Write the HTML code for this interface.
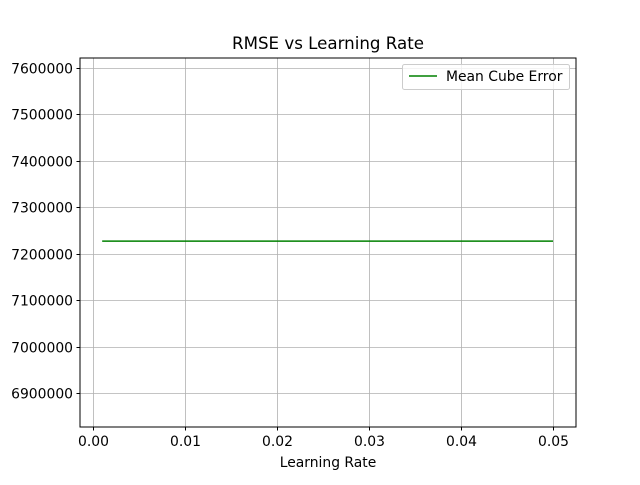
<!DOCTYPE html>
<html><head><meta charset="utf-8"><style>
body{margin:0;background:#fff;}
svg text{font-family:"DejaVu Sans","Liberation Sans",sans-serif;}
</style></head><body>
<svg id="chart" width="640" height="480" xmlns="http://www.w3.org/2000/svg">
<rect width="640" height="480" fill="#fff"/>
<g id="grid"></g>
<g id="series"></g>
<rect x="80" y="58" width="496" height="369" fill="none" stroke="#000" stroke-width="1"/>
<g id="ticks"></g>
<text x="328" y="49" text-anchor="middle" font-size="16.67">RMSE vs Learning Rate</text>
<text x="328" y="467" text-anchor="middle" font-size="13.9">Learning Rate</text>
<g>
<rect x="402.5" y="64.5" width="167" height="25" rx="2" fill="#fff" fill-opacity="0.8" stroke="#ccc"/>
<line x1="409" y1="76" x2="437" y2="76" stroke="green" stroke-width="1.5"/>
<text x="446" y="81" font-size="13.9">Mean Cube Error</text>
</g>
</svg>
<script>
const learningRates=[0.001,0.005,0.01,0.02,0.03,0.04,0.05];
const errorValues=[7227000,7227000,7227000,7227000,7227000,7227000,7227000];
const xTicks=[0,0.01,0.02,0.03,0.04,0.05];
const xTickLabels=["0.00","0.01","0.02","0.03","0.04","0.05"];
const yTicks=[6900000,7000000,7100000,7200000,7300000,7400000,7500000,7600000];
const yTickLabels=["6900000","7000000","7100000","7200000","7300000","7400000","7500000","7600000"];
const L=80,R=576,T=58,B=427;
const xMin=-0.00141,xMax=0.0525,yMin=6826800,yMax=7621500;
function sx(v){return L+(v-xMin)/(xMax-xMin)*(R-L);}
function sy(v){return B-(v-yMin)/(yMax-yMin)*(B-T);}
const NS="http://www.w3.org/2000/svg";
const grid=document.getElementById('grid'),ticks=document.getElementById('ticks'),series=document.getElementById('series');
function mk(tag,attrs,parent){const e=document.createElementNS(NS,tag);for(const k in attrs)e.setAttribute(k,attrs[k]);parent.appendChild(e);return e;}
xTicks.forEach((v,i)=>{const x=Math.round(sx(v))+0.5;
 const g=mk('line',{x1:x,x2:x,y1:T,y2:B,stroke:'#b0b0b0','stroke-width':0.8},grid);
 
 
 const t=mk('line',{x1:x,x2:x,y1:B,y2:B+3.5,stroke:'#000'},ticks);
 
 
 const l=mk('text',{x:x,y:B+19,'text-anchor':'middle','font-size':13.9},ticks);l.textContent=xTickLabels[i];
 
 
});
yTicks.forEach((v,i)=>{const y=Math.round(sy(v))+0.5;
 const g=mk('line',{x1:L,x2:R,y1:y,y2:y,stroke:'#b0b0b0','stroke-width':0.8},grid);
 
 
 const t=mk('line',{x1:L-3.5,x2:L,y1:y,y2:y,stroke:'#000'},ticks);
 
 
 const l=mk('text',{x:L-7,y:y+5,'text-anchor':'end','font-size':13.9},ticks);l.textContent=yTickLabels[i];
 
 
});
const pts=learningRates.map((v,i)=>sx(v).toFixed(2)+','+sy(errorValues[i]).toFixed(2)).join(' ');
const pl=mk('polyline',{points:pts,fill:'none',stroke:'green','stroke-width':1.5},series);


</script>
</body></html>
